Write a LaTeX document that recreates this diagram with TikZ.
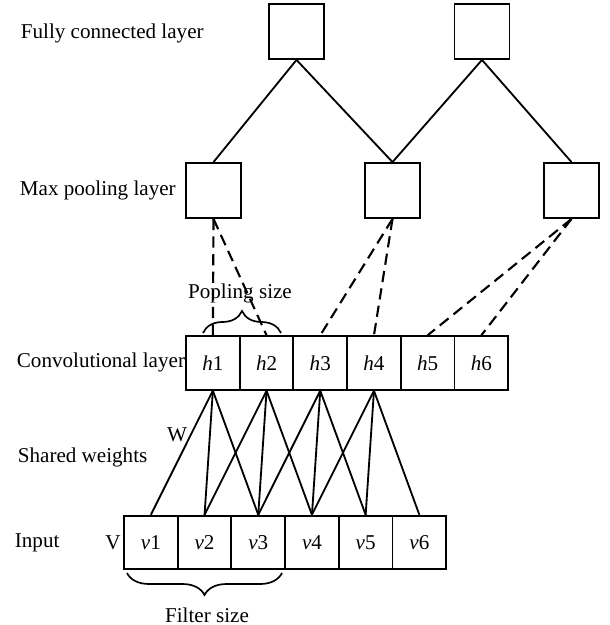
\documentclass[tikz,border=0pt]{standalone}
\usepackage{fontspec}
\setmainfont{Liberation Serif}
\usetikzlibrary{decorations.pathreplacing}

\begin{document}
\begin{tikzpicture}[x=0.25mm,y=-0.25mm,line width=1.3pt,
  font=\fontsize{15}{18}\selectfont,
  unit/.style={draw,minimum size=13.75mm,inner sep=0pt},
  cell/.style={draw,minimum width=13.42mm,minimum height=13.4mm,inner sep=0pt},
  lbl/.style={anchor=west,inner sep=0pt},
  pooled/.style={dash pattern=on 8pt off 4.5pt,line width=1.5pt}]
\useasboundingbox (0,0) rectangle (609,625);

% layer names
\node[lbl] (tfc) at (20,33) {Fully connected layer};
\node[lbl] (tpool) at (19,190) {Max pooling layer};
\node[lbl] (tconv) at (16,362) {Convolutional layer};
\node[lbl] (tshared) at (17,457) {Shared weights};
\node[lbl] (tin) at (14,543) {Input};

% units
\node[unit] (fc1) at (296.5,31.5) {};
\node[unit] (fc2) at (482,31.5) {};
\node[unit] (pool1) at (213.5,190.5) {};
\node[unit] (pool2) at (392.5,190.5) {};
\node[unit] (pool3) at (571.5,190.5) {};

\foreach \i in {1,...,6}{
  \node[cell] (h\i) at ({212.85+53.7*(\i-1)},363) {\textit{h}\i};
  \node[cell] (v\i) at ({150.85+53.7*(\i-1)},542.5) {\textit{v}\i};
}

\draw (fc1.south) -- (pool1.north);
\draw (fc1.south) -- (pool2.north);
\draw (fc2.south) -- (pool2.north);
\draw (fc2.south) -- (pool3.north);

\draw[pooled] (pool1.south) -- (h1.north);
\draw[pooled] (pool1.south) -- (h2.north);
\draw[pooled] (pool2.south) -- (h3.north);
\draw[pooled] (pool2.south) -- (h4.north);
\draw[pooled] (pool3.south) -- (h5.north);
\draw[pooled] (pool3.south) -- (h6.north);

% shared weights
\foreach \i in {1,...,4}{
  \foreach \k in {0,1,2}{
    \pgfmathtruncatemacro{\j}{\i+\k}
    \draw (h\i.south) -- (v\j.north);
  }
}

\node (w) at (177,435) {W};
\node[anchor=east,inner sep=1pt] (vv) at (123,543) {V};

% sizes
\draw[line width=1.2pt,decorate,decoration={brace,amplitude=5.5mm}] (203,333) -- (281,333);
\node (psize) at (240,293) {Popling size};
\draw[line width=1.2pt,decorate,decoration={brace,amplitude=5.5mm}] (282,573) -- (127,573);
\node (fsize) at (207,615) {Filter size};
\end{tikzpicture}
\end{document}
